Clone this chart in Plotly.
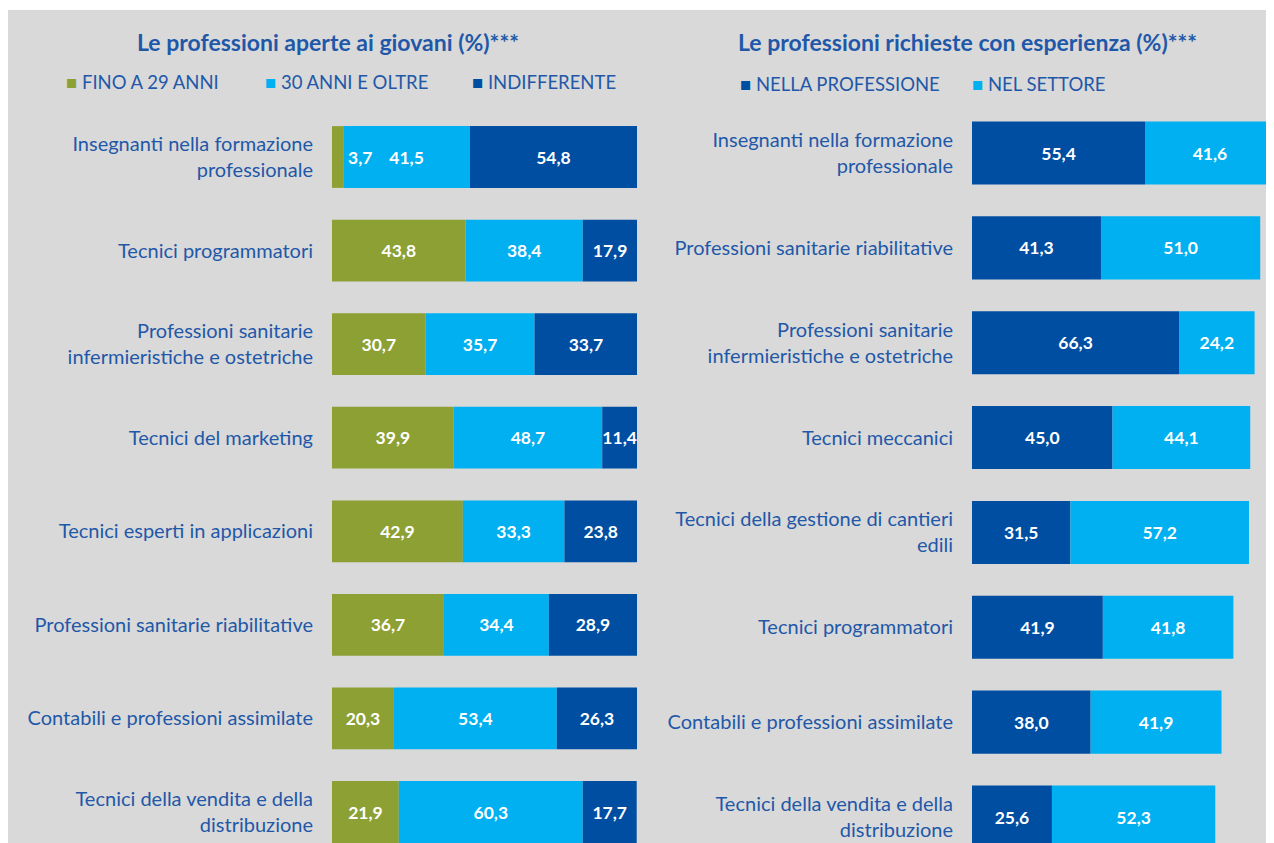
import plotly.graph_objects as go

# ---------------- data ----------------
left_categories = [
    "Insegnanti nella formazione<br>professionale",
    "Tecnici programmatori",
    "Professioni sanitarie<br>infermieristiche e ostetriche",
    "Tecnici del marketing",
    "Tecnici esperti in applicazioni",
    "Professioni sanitarie riabilitative",
    "Contabili e professioni assimilate",
    "Tecnici della vendita e della<br>distribuzione",
]
left_fino29 = [3.7, 43.8, 30.7, 39.9, 42.9, 36.7, 20.3, 21.9]
left_30oltre = [41.5, 38.4, 35.7, 48.7, 33.3, 34.4, 53.4, 60.3]
left_indiff = [54.8, 17.9, 33.7, 11.4, 23.8, 28.9, 26.3, 17.7]
left_series_names = ["FINO A 29 ANNI", "30 ANNI E OLTRE", "INDIFFERENTE"]

right_categories = [
    "Insegnanti nella formazione<br>professionale",
    "Professioni sanitarie riabilitative",
    "Professioni sanitarie<br>infermieristiche e ostetriche",
    "Tecnici meccanici",
    "Tecnici della gestione di cantieri<br>edili",
    "Tecnici programmatori",
    "Contabili e professioni assimilate",
    "Tecnici della vendita e della<br>distribuzione",
]
right_professione = [55.4, 41.3, 66.3, 45.0, 31.5, 41.9, 38.0, 25.6]
right_settore = [41.6, 51.0, 24.2, 44.1, 57.2, 41.8, 41.9, 52.3]
right_series_names = ["NELLA PROFESSIONE", "NEL SETTORE"]

left_title = "Le professioni aperte ai giovani (%)***"
right_title = "Le professioni richieste con esperienza (%)***"

# ---------------- style ----------------
PAGE_W, PAGE_H = 1274, 843
OFF = 8  # default page body margin
W, H = PAGE_W - OFF, PAGE_H - OFF
GREEN = "#8DA033"
LIGHT = "#00B0F0"
DARK = "#004EA2"
TXT = "#1F58A8"
BG = "#D9D9D9"
FONT = "Lato"
LABEL_SIZE = 20
VAL_SIZE = 17.5


def px_x(p):
    return (p - OFF) / W


def px_y(p):
    return 1 - (p - OFF) / H


fig = go.Figure()


def fmt(v):
    return f"{v:.1f}".replace(".", ",")


small_labels = []


def add_stack(series, colors, names, ycats, xaxis, yaxis, width):
    ys = list(range(len(ycats)))
    base = [0.0] * len(ycats)
    for vals, col, name in zip(series, colors, names):
        texts = []
        for i, v in enumerate(vals):
            if v < 6:
                texts.append("")
                small_labels.append((xaxis, yaxis, base[i] + v, ys[i], fmt(v)))
            else:
                texts.append(fmt(v))
        fig.add_trace(go.Bar(
            x=vals, y=ys, base=base[:], orientation="h", name=name,
            marker=dict(color=col, line=dict(width=0)),
            width=width,
            text=texts, textposition="inside", insidetextanchor="middle",
            constraintext="none", textangle=0,
            textfont=dict(color="white", size=VAL_SIZE, family=FONT, weight="bold"),
            xaxis=xaxis, yaxis=yaxis, showlegend=False, hoverinfo="skip",
        ))
        base = [b + v for b, v in zip(base, vals)]


add_stack([left_fino29, left_30oltre, left_indiff], [GREEN, LIGHT, DARK],
          left_series_names, left_categories, "x", "y", 0.66)
add_stack([right_professione, right_settore], [DARK, LIGHT],
          right_series_names, right_categories, "x2", "y2", 0.665)

for xa, ya, xv, yv, t in small_labels:
    fig.add_annotation(x=xv, y=yv, xref=xa, yref=ya, text=t, showarrow=False,
                       xanchor="left", xshift=3,
                       font=dict(color="white", size=VAL_SIZE, family=FONT, weight="bold"))

# background panel
fig.add_shape(type="rect", xref="paper", yref="paper", x0=0, x1=1,
              y0=0, y1=px_y(10), fillcolor=BG, line=dict(width=0), layer="below")

# titles
fig.add_annotation(x=px_x(328), y=px_y(42), xref="paper", yref="paper",
                   text=f"<b>{left_title}</b>", showarrow=False,
                   xanchor="center", yanchor="middle",
                   font=dict(color=TXT, size=23, family=FONT))
fig.add_annotation(x=px_x(967), y=px_y(42), xref="paper", yref="paper",
                   text=f"<b>{right_title}</b>", showarrow=False,
                   xanchor="center", yanchor="middle",
                   font=dict(color=TXT, size=23, family=FONT))

# legends
leg_left_x = [64, 263, 470]
for name, col, x0 in zip(left_series_names, [GREEN, LIGHT, DARK], leg_left_x):
    fig.add_annotation(x=px_x(x0), y=px_y(82), xref="paper", yref="paper",
                       text=f"<span style='color:{col}'>■</span> {name}",
                       showarrow=False, xanchor="left", yanchor="middle",
                       font=dict(color=TXT, size=18.5, family=FONT))
leg_right_x = [738, 970]
for name, col, x0 in zip(right_series_names, [DARK, LIGHT], leg_right_x):
    fig.add_annotation(x=px_x(x0), y=px_y(84), xref="paper", yref="paper",
                       text=f"<span style='color:{col}'>■</span> {name}",
                       showarrow=False, xanchor="left", yanchor="middle",
                       font=dict(color=TXT, size=18.5, family=FONT))

# axes
ytop = 110
lc0, lsp = 157, (812 - 157) / 7
rc0, rsp = 153, (817 - 153) / 7
xr_right = (PAGE_W - 972) / ((1145 - 972) / 55.4)

fig.update_layout(
    width=W, height=H, margin=dict(l=0, r=0, t=0, b=0),
    paper_bgcolor="white", plot_bgcolor="rgba(0,0,0,0)",
    barmode="overlay",
    xaxis=dict(domain=[px_x(332), px_x(637)], range=[0, 100], visible=False,
               fixedrange=True),
    xaxis2=dict(domain=[px_x(972), 1], range=[0, xr_right], visible=False,
                fixedrange=True),
    yaxis=dict(domain=[0, px_y(ytop)], anchor="x",
               range=[(PAGE_H - lc0) / lsp, (ytop - lc0) / lsp],
               tickvals=list(range(len(left_categories))), ticktext=left_categories,
               showgrid=False, zeroline=False, showline=False, ticks="",
               ticklabelstandoff=18,
               tickfont=dict(color=TXT, size=LABEL_SIZE, family=FONT)),
    yaxis2=dict(domain=[0, px_y(ytop)], anchor="x2",
                range=[(PAGE_H - rc0) / rsp, (ytop - rc0) / rsp],
                tickvals=list(range(len(right_categories))), ticktext=right_categories,
                showgrid=False, zeroline=False, showline=False, ticks="",
                ticklabelstandoff=18,
                tickfont=dict(color=TXT, size=LABEL_SIZE, family=FONT)),
)

fig.write_html("out.html")
